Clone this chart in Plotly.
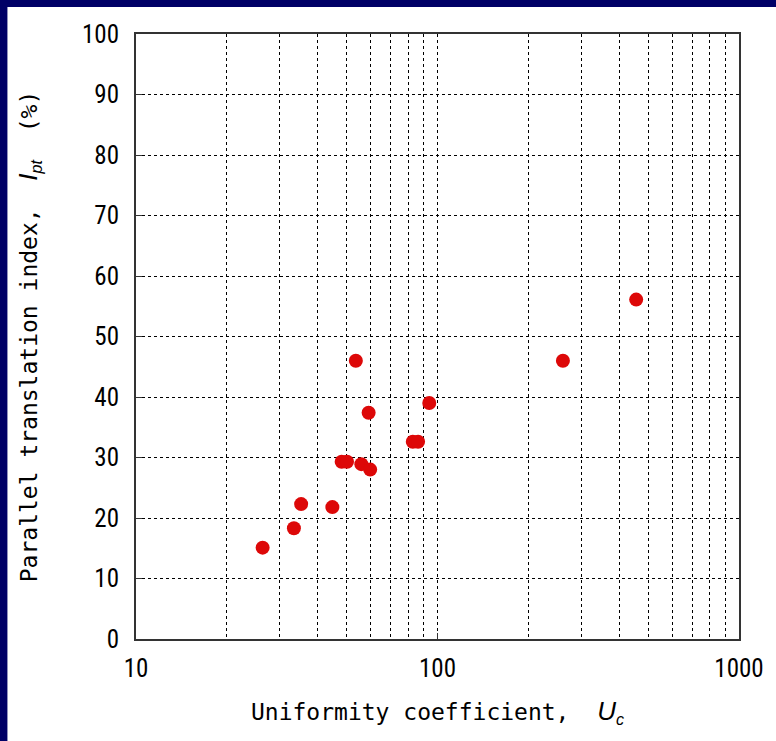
import plotly.graph_objects as go

uc = [26.3, 33.4, 35.3, 44.8, 48.1, 50.1, 53.6, 55.9, 59.1, 59.8, 82.8, 86.2, 93.9, 260.6, 456]
ipt = [15.1, 18.3, 22.3, 21.8, 29.3, 29.3, 46.0, 28.9, 37.4, 28.0, 32.6, 32.6, 39.0, 46.0, 56.1]

x_major = [10, 100, 1000]
x_labels = ["10", "100", "1000"]
x_minor = [20, 30, 40, 50, 60, 70, 80, 90, 200, 300, 400, 500, 600, 700, 800, 900]
y_ticks = list(range(0, 101, 10))

W, H = 776, 741
L, R, T, B = 136, 35, 34, 102
pw, ph = W - L - R, H - T - B

def px2x(p):
    return (p - L) / pw

def py2y(p):
    return (H - B - p) / ph

navy = "#000066"
tickfont = dict(family="Liberation Sans Narrow, Arial Narrow, Roboto Condensed, Liberation Sans", size=25, color="black")
titlefont = dict(family="DejaVu Sans Mono, Liberation Mono", size=23, color="black")
ital = "font-family:Liberation Sans;font-style:italic"

fig = go.Figure()
fig.add_trace(go.Scatter(
    x=uc, y=ipt, mode="markers",
    marker=dict(size=14, color="#dd0808", line=dict(width=0)),
    showlegend=False,
))

fig.update_layout(
    width=W, height=H,
    margin=dict(l=L, r=R, t=T, b=B),
    paper_bgcolor=navy, plot_bgcolor="white",
    xaxis=dict(
        type="log", range=[1, 3],
        tickvals=x_major, ticktext=x_labels, tickfont=tickfont,
        ticks="inside", ticklen=6, tickcolor="#333", ticklabelstandoff=6,
        showgrid=True, gridcolor="black", gridwidth=1, griddash="3px,3px",
        minor=dict(tickvals=x_minor, showgrid=True, gridcolor="black", gridwidth=1,
                   griddash="3px,3px", ticks=""),
        showline=True, linecolor="#333", linewidth=2, mirror=True,
        zeroline=False,
        title=dict(text=f"Uniformity coefficient,  <span style='{ital};font-size:26px'>U</span><sub><span style='{ital}'>c</span></sub>",
                   font=titlefont, standoff=22),
    ),
    yaxis=dict(
        range=[0, 100], tickvals=y_ticks, tickfont=tickfont,
        ticks="inside", ticklen=6, tickcolor="#333", ticklabelstandoff=10,
        showgrid=True, gridcolor="black", gridwidth=1, griddash="3px,3px",
        showline=True, linecolor="#333", linewidth=2, mirror=True,
        zeroline=False,
        title=dict(text=f"Parallel translation index,  <span style='{ital};font-size:26px'>I</span><sub><span style='{ital}'>pt</span></sub>  (%)",
                   font=titlefont, standoff=38),
    ),
    shapes=[
        dict(type="rect", xref="paper", yref="paper", x0=px2x(7), x1=px2x(W + 5), y0=py2y(H + 5), y1=py2y(7),
             fillcolor="white", line=dict(width=0), layer="below"),
    ],
)

fig.write_html("out.html", config={"displayModeBar": False},
               post_script="document.body.style.margin='0';document.body.style.overflow='hidden';")
